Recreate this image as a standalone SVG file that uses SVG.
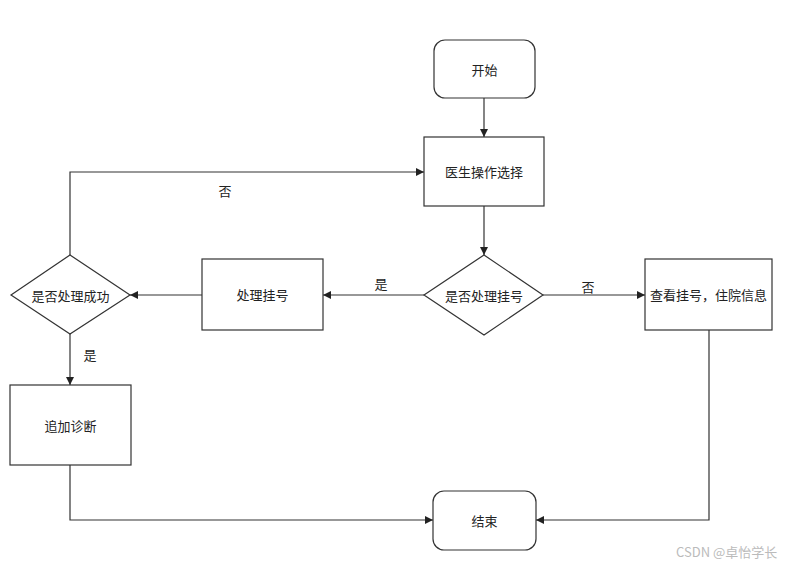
<svg xmlns="http://www.w3.org/2000/svg" width="805" height="568" viewBox="0 0 805 568">
<style>
.n{fill:#fff;stroke:#333;stroke-width:1.2}
.t{font-family:"Noto Sans CJK SC","Noto Sans",sans-serif;font-size:13px;fill:#222;text-anchor:middle;dominant-baseline:central}
.c{fill:none;stroke:#333;stroke-width:1.2}
.wm{font-family:"Noto Sans CJK SC","Noto Sans",sans-serif;font-size:13px;fill:#bbb}
</style>
<defs>
<marker id="a" viewBox="0 0 10 10" refX="10" refY="5" markerWidth="8" markerHeight="8" markerUnits="userSpaceOnUse" orient="auto">
<path d="M0,0L10,5L0,10z" fill="#222"/>
</marker>
</defs>
<rect width="805" height="568" fill="#fff"/>
<g id="connectors">
<path class="c" d="M484,98V137" marker-end="url(#a)"/>
<path class="c" d="M484,206V255" marker-end="url(#a)"/>
<path class="c" d="M543,295H645" marker-end="url(#a)"/>
<path class="c" d="M424,295H323" marker-end="url(#a)"/>
<path class="c" d="M202,295H130" marker-end="url(#a)"/>
<path class="c" d="M70,255V172H424" marker-end="url(#a)"/>
<path class="c" d="M70,334V385" marker-end="url(#a)"/>
<path class="c" d="M70,465V520H433" marker-end="url(#a)"/>
<path class="c" d="M709,330V520H536" marker-end="url(#a)"/>
<text class="t" x="588" y="286">否</text>
<text class="t" x="381" y="283">是</text>
<text class="t" x="225" y="190">否</text>
<text class="t" x="90" y="354">是</text>
</g>
<g id="start"><rect class="n" x="434" y="40" width="101" height="58" rx="11"/><text class="t" x="484.5" y="69">开始</text></g>
<g id="choose"><rect class="n" x="424" y="137" width="120" height="69"/><text class="t" x="484" y="171.5">医生操作选择</text></g>
<g id="d1"><path class="n" d="M484,255L543,295L484,335L424,295z"/><text class="t" x="484" y="295">是否处理挂号</text></g>
<g id="view"><rect class="n" x="645" y="259" width="127" height="71"/><text class="t" x="708.5" y="294.5">查看挂号，住院信息</text></g>
<g id="handle"><rect class="n" x="202" y="259" width="121" height="71"/><text class="t" x="262.5" y="294.5">处理挂号</text></g>
<g id="d2"><path class="n" d="M70,255L130,295L70,334L11,295z"/><text class="t" x="70.5" y="295">是否处理成功</text></g>
<g id="diag"><rect class="n" x="10" y="385" width="121" height="80"/><text class="t" x="70.5" y="425">追加诊断</text></g>
<g id="end"><rect class="n" x="433" y="491" width="103" height="59" rx="11"/><text class="t" x="484.5" y="520.5">结束</text></g>
<text class="wm" x="676" y="557">CSDN @卓怡学长</text>
</svg>
